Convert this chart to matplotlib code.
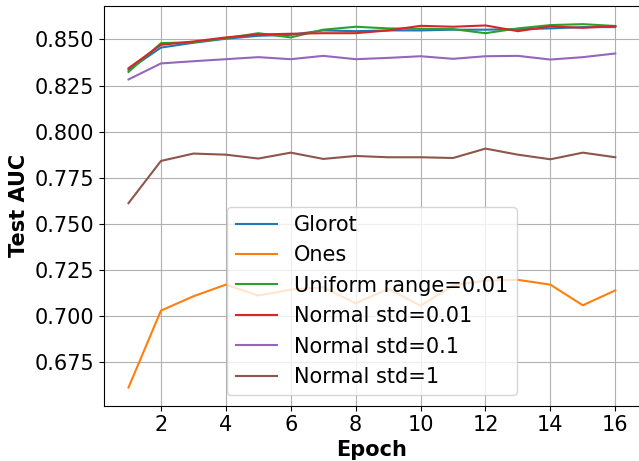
import numpy as np
import matplotlib
matplotlib.use("Agg")
import matplotlib.pyplot as plt

epochs = np.arange(1, 17)

glorot = [0.8335, 0.8456, 0.8482, 0.8504, 0.8520, 0.8525, 0.8549, 0.8545,
          0.8549, 0.8549, 0.8553, 0.8553, 0.8556, 0.8560, 0.8567, 0.8567]
ones = [0.6612, 0.7029, 0.7107, 0.7170, 0.7111, 0.7143, 0.7156, 0.7069,
        0.7147, 0.7056, 0.7165, 0.7192, 0.7196, 0.7170, 0.7058, 0.7139]
uniform_001 = [0.8324, 0.8480, 0.8485, 0.8507, 0.8534, 0.8511, 0.8553, 0.8569,
               0.8560, 0.8558, 0.8556, 0.8534, 0.8560, 0.8578, 0.8583, 0.8573]
normal_001 = [0.8344, 0.8471, 0.8489, 0.8511, 0.8527, 0.8531, 0.8534, 0.8534,
              0.8549, 0.8574, 0.8569, 0.8576, 0.8545, 0.8571, 0.8563, 0.8573]
normal_01 = [0.8283, 0.8370, 0.8382, 0.8393, 0.8404, 0.8393, 0.8411, 0.8393,
             0.8400, 0.8409, 0.8395, 0.8409, 0.8411, 0.8391, 0.8404, 0.8424]
normal_1 = [0.7612, 0.7841, 0.7881, 0.7875, 0.7854, 0.7886, 0.7852, 0.7868,
            0.7861, 0.7861, 0.7857, 0.7908, 0.7875, 0.7850, 0.7886, 0.7861]

SERIES = {
    "Glorot": glorot,
    "Ones": ones,
    "Uniform range=0.01": uniform_001,
    "Normal std=0.01": normal_001,
    "Normal std=0.1": normal_01,
    "Normal std=1": normal_1,
}

xticks = [2, 4, 6, 8, 10, 12, 14, 16]

FS = 15

fig = plt.figure(figsize=(6.39, 4.61), dpi=100)
ax = fig.add_axes([0.163, 0.12, 0.838, 0.867])

for label, values in SERIES.items():
    ax.plot(epochs, values, linewidth=1.5, label=label)

ax.set_xlabel("Epoch", fontsize=FS, fontweight="bold", labelpad=3)
ax.set_ylabel("Test AUC", fontsize=FS, fontweight="bold")
ax.set_xticks(xticks)
ax.tick_params(labelsize=FS)
ax.yaxis.set_major_locator(plt.MultipleLocator(0.025))
ax.yaxis.set_major_formatter(plt.FormatStrFormatter("%.3f"))
ax.grid(True)
ax.legend(loc="lower center", fontsize=FS)

fig.savefig("out.png", dpi=100)
